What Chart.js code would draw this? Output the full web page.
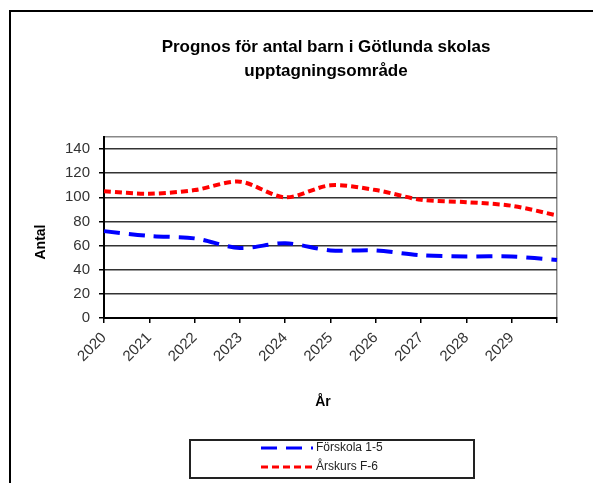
<!DOCTYPE html>
<html>
<head>
<meta charset="utf-8">
<script src="https://cdn.jsdelivr.net/npm/chart.js@4/dist/chart.umd.min.js"></script>
<style>
  html, body { margin: 0; padding: 0; background: #fff; }
  #wrap { width: 593px; height: 483px; position: relative; }
</style>
</head>
<body>
<div id="wrap"><canvas id="grafico" width="593" height="483"></canvas></div>
<script>
// Data
const years = ['2020', '2021', '2022', '2023', '2024', '2025', '2026', '2027', '2028', '2029', ''];
const forskola = [72, 68, 66, 58, 62, 56, 56, 52, 51, 51, 48];
const arskurs = [105, 103, 106, 113, 100, 110, 106, 98, 96, 93, 85];
const yTicks = [0, 20, 40, 60, 80, 100, 120, 140];

const titleLines = ['Prognos för antal barn i Götlunda skolas', 'upptagningsområde'];
const fontFam = '"Liberation Sans", Arial, sans-serif';

// Frame, title, axis titles and legend box
const decor = {
    id: 'decor',
    beforeDraw(chart) {
        const c = chart.ctx;
        c.save();
        c.fillStyle = '#fff';
        c.fillRect(0, 0, chart.width, chart.height);
        c.strokeStyle = '#000';
        c.lineWidth = 2;
        c.beginPath();
        c.moveTo(10, 490);
        c.lineTo(10, 11);
        c.lineTo(600, 11);
        c.stroke();
        c.restore();
    },
    afterDraw(chart) {
        const c = chart.ctx;
        c.save();
        c.fillStyle = '#000';
        c.textAlign = 'center';
        c.textBaseline = 'middle';
        c.font = 'bold 17px ' + fontFam;
        c.fillText(titleLines[0], 326, 47);
        c.fillText(titleLines[1], 326, 71);

        c.font = 'bold 14px ' + fontFam;
        c.fillText('År', 323, 402);
        c.translate(41, 242);
        c.rotate(-Math.PI / 2);
        c.fillText('Antal', 0, 0);
        c.restore();

        // legend
        c.save();
        c.strokeStyle = '#222';
        c.lineWidth = 2;
        c.strokeRect(190, 440, 284, 38);
        c.font = '12px ' + fontFam;
        c.textBaseline = 'middle';
        c.textAlign = 'left';
        chart.data.datasets.forEach((ds, i) => {
            const y = 448 + i * 19;
            c.strokeStyle = ds.borderColor;
            c.lineWidth = 3;
            c.setLineDash(ds.borderDash);
            c.beginPath();
            c.moveTo(261, y);
            c.lineTo(313, y);
            c.stroke();
            c.setLineDash([]);
            c.fillStyle = '#222';
            c.fillText(ds.label, 316, y);
        });
        c.restore();
    }
};

new Chart(document.getElementById('grafico'), {
    type: 'line',
    data: {
        labels: years,
        datasets: [{
            label: 'Förskola 1-5',
            data: forskola,
            borderColor: '#0000ff',
            borderWidth: 4,
            borderDash: [16, 9],
            tension: 0.3,
            pointRadius: 0,
            fill: false
        }, {
            label: 'Årskurs F-6',
            data: arskurs,
            borderColor: '#ff0000',
            borderWidth: 4,
            borderDash: [7, 4],
            tension: 0.3,
            pointRadius: 0,
            fill: false
        }]
    },
    options: {
        responsive: false,
        animation: false,
        layout: { padding: { top: 137, right: 36, left: 0, bottom: 0 } },
        plugins: {
            legend: { display: false },
            tooltip: { enabled: false }
        },
        scales: {
            x: {
                offset: false,
                afterFit(scale) { scale.height = 165; },
                grid: {
                    color: ctx => ctx.index === 10 ? '#888' : 'rgba(0,0,0,0)',
                    tickColor: '#000',
                    tickLength: 5,
                    lineWidth: 1.5
                },
                border: { color: '#000', width: 2 },
                ticks: {
                    autoSkip: false,
                    maxRotation: 45,
                    minRotation: 45,
                    padding: 6,
                    color: '#333',
                    font: { family: fontFam, size: 15 }
                }
            },
            y: {
                min: 0,
                max: 150,
                afterFit(scale) { scale.width = 104; },
                afterBuildTicks(scale) {
                    scale.ticks = yTicks.concat([150]).map(v => ({ value: v }));
                },
                grid: {
                    color: ctx => ctx.tick && ctx.tick.value === 150 ? '#888' : '#333',
                    tickColor: ctx => ctx.tick && ctx.tick.value === 150 ? 'rgba(0,0,0,0)' : '#000',
                    tickLength: 5,
                    lineWidth: 1.5
                },
                border: { color: '#000', width: 2 },
                ticks: {
                    callback: v => yTicks.includes(v) ? String(v) : '',
                    color: '#333',
                    padding: 9,
                    font: { family: fontFam, size: 15 }
                }
            }
        }
    },
    plugins: [decor]
});
</script>
</body>
</html>
